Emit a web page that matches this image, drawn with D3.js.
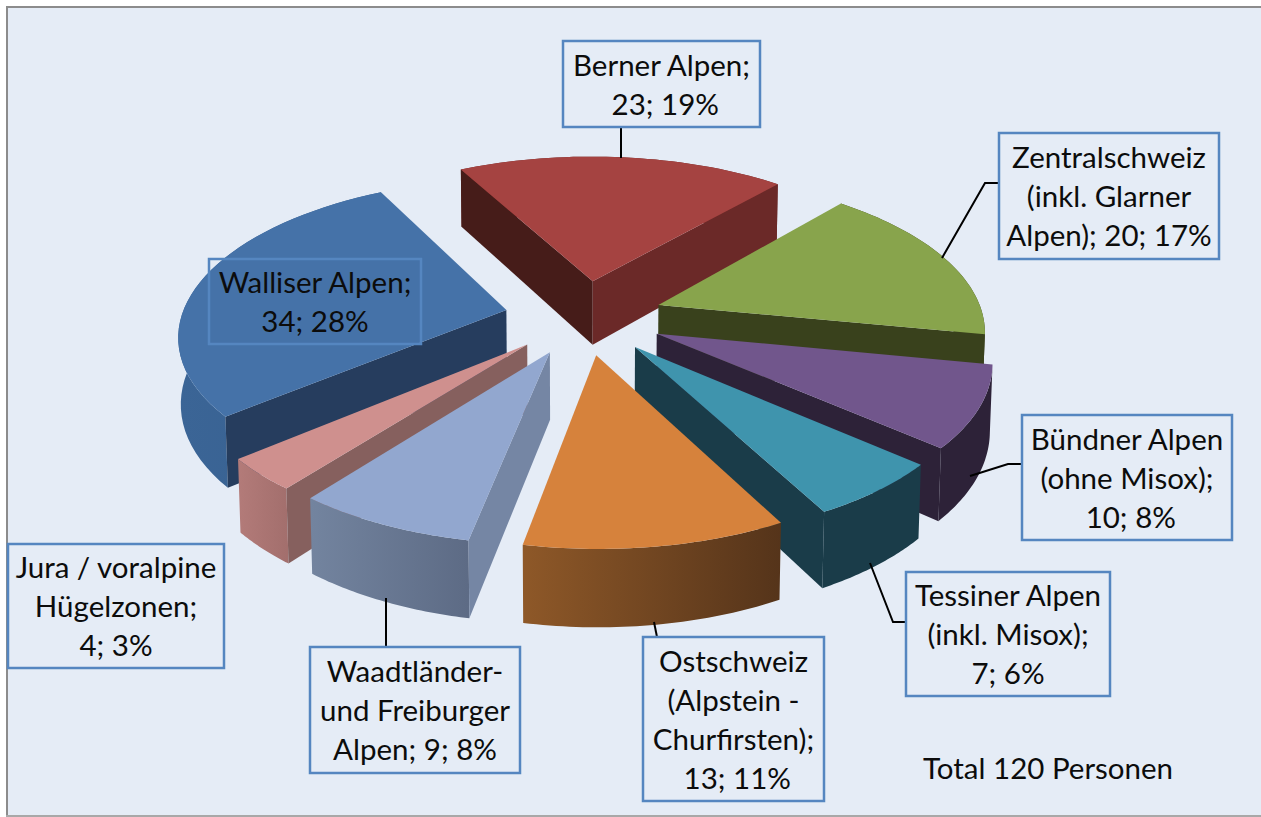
<!DOCTYPE html>
<html>
<head>
<meta charset="utf-8">
<script src="https://cdn.jsdelivr.net/npm/d3@7"></script>
<style>
html, body { margin: 0; padding: 0; background: #fff; }
svg { display: block; }
text { font-family: Lato, "Open Sans", sans-serif; fill: #0c0c0c; white-space: pre; }
</style>
</head>
<body>
<div id="chart"></div>
<script>
const categories = ["Berner Alpen", "Zentralschweiz", "Bündner Alpen", "Tessiner Alpen", "Ostschweiz", "Waadtländer- und Freiburger Alpen", "Jura / voralpine Hügelzonen", "Walliser Alpen"];
const personen = [23, 20, 10, 7, 13, 9, 4, 34];
const labelLines = [
    ["Berner Alpen;", " 23; 19%"],
    ["Zentralschweiz", "(inkl. Glarner", "Alpen); 20; 17%"],
    ["Bündner Alpen", "(ohne Misox);", " 10; 8%"],
    ["Tessiner Alpen", "(inkl. Misox);", "7; 6%"],
    ["Ostschweiz", "(Alpstein -", "Churfirsten);", " 13; 11%"],
    ["Waadtländer-", "und Freiburger", "Alpen; 9; 8%"],
    ["Jura / voralpine", "Hügelzonen;", "4; 3%"],
    ["Walliser Alpen;", "34; 28%"]
];
const totalLabel = "Total 120 Personen";

// colours per slice: top, left wall, right wall, outer side (from/to)
const topColors = ["#a54341", "#88a44c", "#71568c", "#3f94ad", "#d6823c", "#92a7cf", "#cf908e", "#4572a8"];
const wallColors = [
    ["#461c19", "#6b2928"], ["#39411c", "#39411c"], ["#2d2238", "#2d2238"], ["#1a3c49", "#1a3c49"],
    ["#5a3516", "#5a3516"], ["#7586a4", "#7586a4"], ["#86605e", "#86605e"], ["#263d5e", "#263d5e"]
];
const sideColors = [
    ["#6b2928", "#6b2928"], ["#39411c", "#39411c"], ["#2d2238", "#2d2238"], ["#1a3c49", "#1a3c49"],
    ["#8e5828", "#55341a"], ["#73849f", "#5d6b85"], ["#b37b79", "#a36f6d"], ["#3b6596", "#365f8f"]
];

// label boxes [x, y, w, h] and leader lines, screen layout
const labelBoxes = [
    [563, 41, 197, 86], [999, 133, 220, 126], [1022, 415, 210, 125], [906, 572, 204, 124],
    [643, 637, 181, 164], [310, 647, 210, 126], [8, 544, 216, 124], [209, 259, 212, 85]
];
const leaders = [
    [[621, 127], [621, 158]],
    [[999, 183], [985, 183], [942, 258]],
    [[1022, 464], [1008, 464], [970, 476]],
    [[906, 622], [893, 622], [870, 563]],
    [[657, 637], [654, 622]],
    [[386, 647], [386, 598]]
];

const W = 1261, H = 817;
const svg = d3.select("#chart").append("svg").attr("width", W).attr("height", H);
svg.append("rect").attr("x", 7).attr("y", 7).attr("width", W + 10).attr("height", H - 8)
    .attr("fill", "#e5ecf6").attr("stroke", "#8c8c8c").attr("stroke-width", 2);
svg.append("rect").attr("x", 6).attr("y", 815).attr("width", W).attr("height", 2).attr("fill", "#a8a8a8");
const defs = svg.append("defs");

// small perspective camera for the tilted pie
const cam = { cx: 584, cy: 317, tilt: 28 * Math.PI / 180, dist: 6.0, scale: 325, zEffect: 0.35 };
const explode = 0.245;
const depth = 0.23;

function project(x, y, z) {
    const st = Math.sin(cam.tilt), ct = Math.cos(cam.tilt);
    const sc = cam.scale * cam.dist / (cam.dist - (y * ct + z * st * cam.zEffect));
    return [cam.cx + x * sc, cam.cy + (y * st - z * ct) * sc];
}

const pie = d3.pie().sort(null).startAngle(-28 * Math.PI / 180).endAngle((360 - 28) * Math.PI / 180);
const arcs = pie(personen);

const line = d3.line();

function slicePoints(d) {
    const mid = (d.startAngle + d.endAngle) / 2;
    const ox = Math.sin(mid) * explode, oy = -Math.cos(mid) * explode;
    const angles = d3.range(0, 41).map(k => d.startAngle + (d.endAngle - d.startAngle) * k / 40);
    const rim = z => angles.map(a => project(ox + Math.sin(a), oy - Math.cos(a), z));
    return {
        apexTop: project(ox, oy, 0),
        apexBottom: project(ox, oy, -depth),
        rimTop: rim(0),
        rimBottom: rim(-depth)
    };
}

// back to front so nearer slices cover farther ones
const drawOrder = [0, 1, 7, 2, 6, 5, 3, 4];

drawOrder.forEach(i => {
    const p = slicePoints(arcs[i]);
    const g = svg.append("g").attr("class", "slice").attr("data-name", categories[i]);

    const gradId = "side" + i;
    const xs = p.rimTop.map(q => q[0]);
    const grad = defs.append("linearGradient").attr("id", gradId)
        .attr("gradientUnits", "userSpaceOnUse")
        .attr("x1", d3.min(xs)).attr("x2", d3.max(xs)).attr("y1", 0).attr("y2", 0);
    grad.append("stop").attr("offset", 0).attr("stop-color", sideColors[i][0]);
    grad.append("stop").attr("offset", 1).attr("stop-color", sideColors[i][1]);

    // outer side
    const side = p.rimTop.concat(p.rimBottom.slice().reverse());
    g.append("path").attr("d", line(side) + "Z").attr("fill", `url(#${gradId})`);

    // the two cut walls, only the ones facing the camera
    const wallA = [p.apexTop, p.rimTop[0], p.rimBottom[0], p.apexBottom];
    const wallB = [p.apexTop, p.apexBottom, p.rimBottom[40], p.rimTop[40]];
    if (d3.polygonArea(wallA) > 0) {
        g.append("path").attr("d", line(wallA) + "Z").attr("fill", wallColors[i][0]);
    }
    if (d3.polygonArea(wallB) > 0) {
        g.append("path").attr("d", line(wallB) + "Z").attr("fill", wallColors[i][1]);
    }

    // top face
    g.append("path").attr("d", line([p.apexTop].concat(p.rimTop)) + "Z").attr("fill", topColors[i]);
});

// leader lines
leaders.forEach(pts => {
    svg.append("path").attr("d", line(pts)).attr("fill", "none")
        .attr("stroke", "#000").attr("stroke-width", 2);
});

// data labels
const lineHeight = 39;
labelBoxes.forEach((b, i) => {
    svg.append("rect").attr("x", b[0]).attr("y", b[1]).attr("width", b[2]).attr("height", b[3])
        .attr("fill", i === 7 ? "none" : "#e5ecf6").attr("stroke", "#5586c0").attr("stroke-width", 2.5);
    const lines = labelLines[i];
    const top = b[1] + b[3] / 2 - (lines.length - 1) * lineHeight / 2;
    lines.forEach((t, k) => {
        svg.append("text").attr("x", b[0] + b[2] / 2).attr("y", top + k * lineHeight + 11)
            .attr("text-anchor", "middle").style("font-size", "29.5px").text(t);
    });
});

svg.append("text").attr("x", 923).attr("y", 779).style("font-size", "29.5px").text(totalLabel);
</script>
</body>
</html>
